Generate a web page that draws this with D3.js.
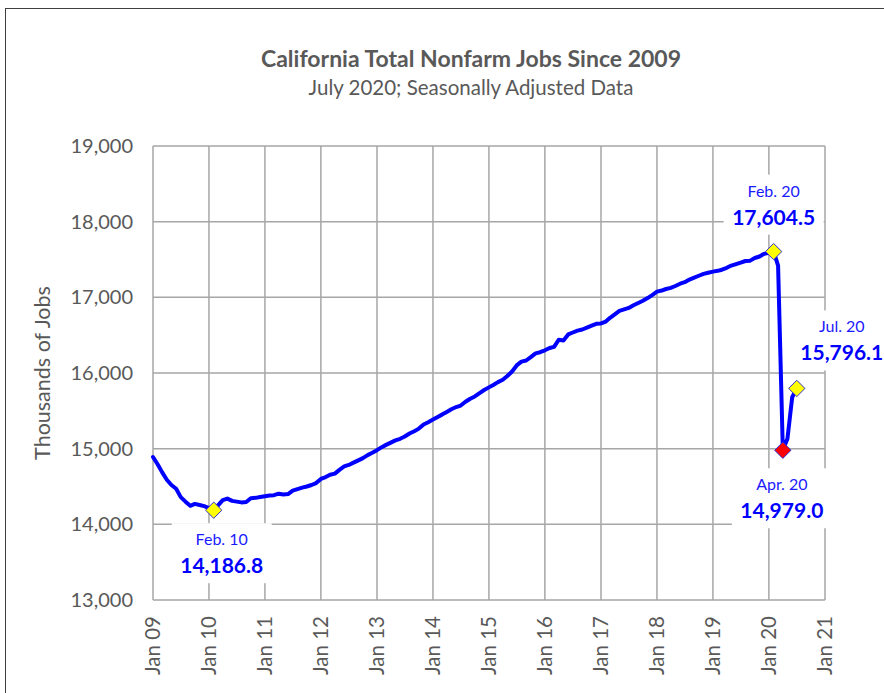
<!DOCTYPE html>
<html>
<head>
<meta charset="utf-8">
<script src="https://cdn.jsdelivr.net/npm/d3@7"></script>
<style>
  body { margin: 0; background: #fff; }
  text { font-family: Lato, "DejaVu Sans", sans-serif; }
</style>
</head>
<body>
<script>
// monthly jobs, thousands, Jan 2009 .. Jul 2020 (seasonally adjusted)
const startYear = 2009;
const jobs = [
  14890, 14790, 14690, 14590, 14520, 14470, 14360, 14300, 14245, 14270, 14255, 14240, // 2009
  14215, 14186.8, 14250, 14320, 14340, 14310, 14300, 14290, 14295, 14345, 14350, 14360, // 2010
  14370, 14380, 14385, 14405, 14395, 14400, 14445, 14465, 14485, 14500, 14520, 14545, // 2011
  14600, 14625, 14655, 14670, 14720, 14765, 14785, 14815, 14845, 14875, 14915, 14945, // 2012
  14980, 15020, 15050, 15080, 15110, 15130, 15160, 15200, 15230, 15265, 15320, 15350, // 2013
  15385, 15420, 15450, 15485, 15520, 15550, 15570, 15620, 15660, 15690, 15735, 15775, // 2014
  15810, 15845, 15880, 15910, 15960, 16020, 16100, 16150, 16165, 16210, 16260, 16275, // 2015
  16300, 16330, 16345, 16440, 16430, 16510, 16535, 16560, 16575, 16600, 16625, 16650, // 2016
  16655, 16680, 16730, 16775, 16820, 16840, 16860, 16895, 16925, 16955, 16990, 17030, // 2017
  17075, 17090, 17110, 17125, 17150, 17180, 17200, 17235, 17260, 17285, 17310, 17325, // 2018
  17340, 17350, 17365, 17390, 17420, 17440, 17460, 17480, 17485, 17520, 17540, 17575, // 2019
  17590, 17604.5, 17420, 14979.0, 15130, 15680, 15796.1                              // 2020
];

const yTicks = [13000, 14000, 15000, 16000, 17000, 18000, 19000];
const xTickYears = [2009, 2010, 2011, 2012, 2013, 2014, 2015, 2016, 2017, 2018, 2019, 2020, 2021];

// highlighted points
const annoLabels = ["Feb. 10", "Feb. 20", "Apr. 20", "Jul. 20"];
const annoIndex = [13, 133, 135, 138];
const annoFill = ["#ffff00", "#ffff00", "#ff0000", "#ffff00"];

// label placement relative to the point (layout only)
const annoOffset = [
  { dx: 8, dy: 35 },
  { dx: 0, dy: -55 },
  { dx: -1, dy: 40 },
  { dx: 45, dy: -56 }
];

const W = 884, H = 693;
const pLeft = 153, pRight = 825, pTop = 146, pBottom = 600;
const grey = "#595959";
const blue = "#0000ff";

const svg = d3.select("body").append("svg")
  .attr("width", W)
  .attr("height", H);

// outer frame
svg.append("rect")
  .attr("x", 5.5).attr("y", 8.5)
  .attr("width", 920).attr("height", 720)
  .attr("fill", "none")
  .attr("stroke", "#404040")
  .attr("stroke-width", 1);

// titles
svg.append("text")
  .attr("x", 471).attr("y", 67)
  .attr("text-anchor", "middle")
  .attr("font-size", 23).attr("font-weight", "bold")
  .attr("fill", grey)
  .text("California Total Nonfarm Jobs Since 2009");

svg.append("text")
  .attr("x", 471).attr("y", 95)
  .attr("text-anchor", "middle")
  .attr("font-size", 20.5)
  .attr("fill", grey)
  .text("July 2020; Seasonally Adjusted Data");

const dates = jobs.map((v, i) => new Date(startYear, i, 1));
const data = jobs.map((v, i) => ({ date: dates[i], value: v }));

const x = d3.scaleTime()
  .domain([new Date(2009, 0, 1), new Date(2021, 0, 1)])
  .range([pLeft, pRight]);

const y = d3.scaleLinear()
  .domain([13000, 19000])
  .range([pBottom, pTop]);

// grid
const grid = svg.append("g").attr("stroke", "#a6a6a6").attr("stroke-width", 1.5);
grid.selectAll(".hg")
  .data(yTicks)
  .enter()
  .append("line")
  .attr("x1", pLeft).attr("x2", pRight)
  .attr("y1", d => y(d)).attr("y2", d => y(d));

grid.selectAll(".vg")
  .data(xTickYears)
  .enter()
  .append("line")
  .attr("x1", d => x(new Date(d, 0, 1))).attr("x2", d => x(new Date(d, 0, 1)))
  .attr("y1", pTop).attr("y2", pBottom);

// y axis labels
svg.selectAll(".ytl")
  .data(yTicks)
  .enter()
  .append("text")
  .attr("x", 133)
  .attr("y", d => y(d))
  .attr("dy", "0.35em")
  .attr("text-anchor", "end")
  .attr("font-size", 20)
  .attr("fill", grey)
  .text(d => d3.format(",")(d));

svg.append("text")
  .attr("transform", "translate(50," + ((pTop + pBottom) / 2) + ") rotate(-90)")
  .attr("text-anchor", "middle")
  .attr("font-size", 21.5)
  .attr("fill", grey)
  .text("Thousands of Jobs");

// x axis labels
const fmt = d3.timeFormat("Jan %y");
svg.selectAll(".xtl")
  .data(xTickYears)
  .enter()
  .append("text")
  .attr("transform", d => "translate(" + x(new Date(d, 0, 1)) + "," + (pBottom + 16) + ") rotate(-90)")
  .attr("dy", "0.35em")
  .attr("text-anchor", "end")
  .attr("font-size", 20.5)
  .attr("fill", grey)
  .text(d => fmt(new Date(d, 0, 1)));

// white label boxes (cover grid)
const annos = annoIndex.map((idx, i) => ({
  label: annoLabels[i],
  value: jobs[idx],
  date: dates[idx],
  fill: annoFill[i],
  off: annoOffset[i]
}));

svg.selectAll(".box")
  .data(annos)
  .enter()
  .append("rect")
  .attr("x", d => x(d.date) + d.off.dx - 50)
  .attr("y", d => y(d.value) + d.off.dy - 22)
  .attr("width", 100)
  .attr("height", 60)
  .attr("fill", "#fff");

// the line
const line = d3.line()
  .x(d => x(d.date))
  .y(d => y(d.value));

svg.append("path")
  .datum(data)
  .attr("d", line)
  .attr("fill", "none")
  .attr("stroke", blue)
  .attr("stroke-width", 4)
  .attr("stroke-linejoin", "round")
  .attr("stroke-linecap", "round");

// diamond markers
svg.selectAll(".mk")
  .data(annos)
  .enter()
  .append("path")
  .attr("d", d3.symbol().type(d3.symbolDiamond2).size(170))
  .attr("transform", d => "translate(" + x(d.date) + "," + y(d.value) + ")")
  .attr("fill", d => d.fill)
  .attr("stroke", "#3030d0")
  .attr("stroke-width", 1);

// labels
svg.selectAll(".al1")
  .data(annos)
  .enter()
  .append("text")
  .attr("x", d => x(d.date) + d.off.dx)
  .attr("y", d => y(d.value) + d.off.dy)
  .attr("text-anchor", "middle")
  .attr("font-size", 16)
  .attr("fill", "#1a1aff")
  .text(d => d.label);

svg.selectAll(".al2")
  .data(annos)
  .enter()
  .append("text")
  .attr("x", d => x(d.date) + d.off.dx)
  .attr("y", d => y(d.value) + d.off.dy + 28)
  .attr("text-anchor", "middle")
  .attr("font-size", 21)
  .attr("font-weight", "bold")
  .attr("fill", blue)
  .text(d => d3.format(",.1f")(d.value));
</script>
</body>
</html>
